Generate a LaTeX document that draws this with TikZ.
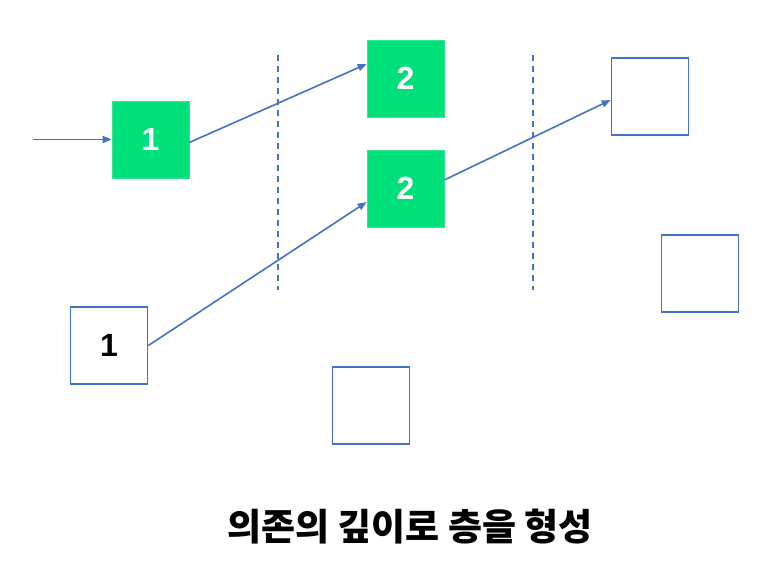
\documentclass[tikz,border=0pt]{standalone}
\usepackage{fontspec}
\setmainfont{Liberation Sans}
\newfontfamily\kor{Noto Sans CJK KR}
\usetikzlibrary{arrows.meta}
\definecolor{gbox}{HTML}{00E07A}
\definecolor{lblue}{HTML}{4472C4}
\tikzset{
  gsq/.style={fill=gbox,draw=gbox!80!white,line width=0.6pt,minimum size=77pt,inner sep=0pt,text=white,font=\fontsize{32}{32}\selectfont\bfseries},
  wsq/.style={draw=lblue,fill=white,line width=1.7pt,minimum size=77pt,inner sep=0pt,text=black,font=\fontsize{32}{32}\selectfont\bfseries},
  conn/.style={draw=lblue,line width=1.6pt,-{Triangle[length=9pt,width=7pt]}},
  divider/.style={draw=lblue,line width=2.8pt,dash pattern=on 6pt off 5pt}
}
\begin{document}
\begin{tikzpicture}[x=1pt,y=-1pt]
\useasboundingbox (0,0) rectangle (768,569);
\node[gsq] (g1) at (150.5,139.5) {1};
\node[gsq] (g2a) at (405.5,78.5) {2};
\node[gsq] (g2b) at (405.5,188.5) {2};
\node[wsq] (w1) at (109,345.5) {1};
\node[wsq] (w2) at (650,96.5) {};
\node[wsq] (w3) at (700,273.5) {};
\node[wsq] (w4) at (371,405.5) {};
\coordinate (in) at (33,139.5);
\coordinate (d1a) at (278,55);
\coordinate (d1b) at (278,290);
\coordinate (d2a) at (533,55);
\coordinate (d2b) at (533,290);
\draw[divider] (d1a) -- (d1b);
\draw[divider] (d2a) -- (d2b);
\draw[conn] (in) -- (g1.west);
\draw[conn] ([yshift=-3pt]g1.east) -- ([yshift=14.5pt]g2a.west);
\draw[conn] ([yshift=0pt]w1.east) -- ([yshift=-13.5pt]g2b.west);
\draw[conn] ([yshift=8.5pt]g2b.east) -- ([yshift=-3.5pt]w2.west);
\node[font=\kor\fontsize{37}{37}\selectfont\bfseries] (title) at (410,527) {의존의 깊이로 층을 형성};
\end{tikzpicture}
\end{document}
